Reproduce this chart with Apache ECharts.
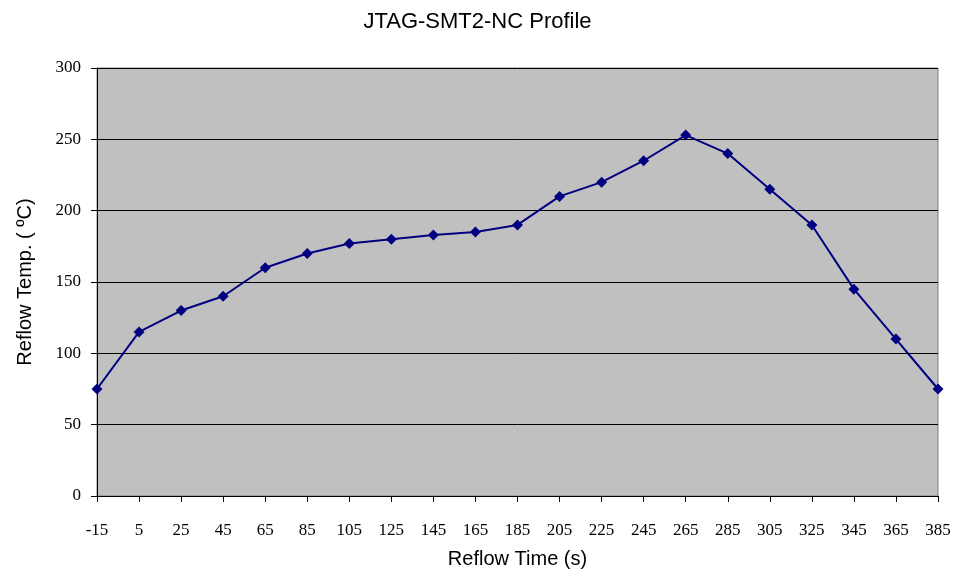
<!DOCTYPE html>
<html><head><meta charset="utf-8">
<script src="https://cdn.jsdelivr.net/npm/echarts@6/dist/echarts.min.js"></script>
<style>html,body{margin:0;padding:0;background:#fff}#c{width:955px;height:576px}</style>
</head><body><div id="c"></div>
<script>
var times = ['-15','5','25','45','65','85','105','125','145','165','185','205','225','245','265','285','305','325','345','365','385'];
var temps = [75,115,130,140,160,170,177,180,183,185,190,210,220,235,253,240,215,190,145,110,75];
var yTicks = [0,50,100,150,200,250,300];

var chart = echarts.init(document.getElementById('c'));
chart.setOption({
  animation:false,
  backgroundColor:'#fff',
  title:{text:'JTAG-SMT2-NC Profile',left:'center',top:6,textStyle:{fontFamily:'Liberation Sans, Arial',fontSize:22,fontWeight:'normal',color:'#000'}},
  grid:{left:97,right:17,top:68,bottom:80,containLabel:false,outerBoundsMode:'none',show:true,backgroundColor:'#C0C0C0',borderColor:'#808080',borderWidth:1},
  xAxis:{type:'category',data:times,boundaryGap:false,
    name:'Reflow Time (s)',nameLocation:'middle',nameGap:53,
    nameTextStyle:{fontFamily:'Liberation Sans, Arial',fontSize:20,color:'#000'},
    axisLine:{lineStyle:{color:'#000',width:1}},
    axisTick:{show:true,length:6,lineStyle:{color:'#000'},interval:0,alignWithLabel:true},
    axisLabel:{fontFamily:'Liberation Serif, Times New Roman',fontSize:17,color:'#000',margin:26,interval:0},
    splitLine:{show:false}},
  yAxis:{type:'value',min:yTicks[0],max:yTicks[yTicks.length-1],interval:50,
    name:'Reflow Temp. ( \u00BAC)',nameLocation:'middle',nameGap:62,
    nameTextStyle:{fontFamily:'Liberation Sans, Arial',fontSize:20,color:'#000'},
    axisLine:{show:true,lineStyle:{color:'#000',width:1}},
    axisTick:{show:true,length:6,lineStyle:{color:'#000'}},
    axisLabel:{fontFamily:'Liberation Serif, Times New Roman',fontSize:17,color:'#000',margin:16},
    splitLine:{show:true,lineStyle:{color:'#000',width:1}}},
  series:[{type:'line',data:temps,symbol:'diamond',symbolSize:11,
    itemStyle:{color:'#000080'},lineStyle:{color:'#000080',width:2}}]
});
</script></body></html>
